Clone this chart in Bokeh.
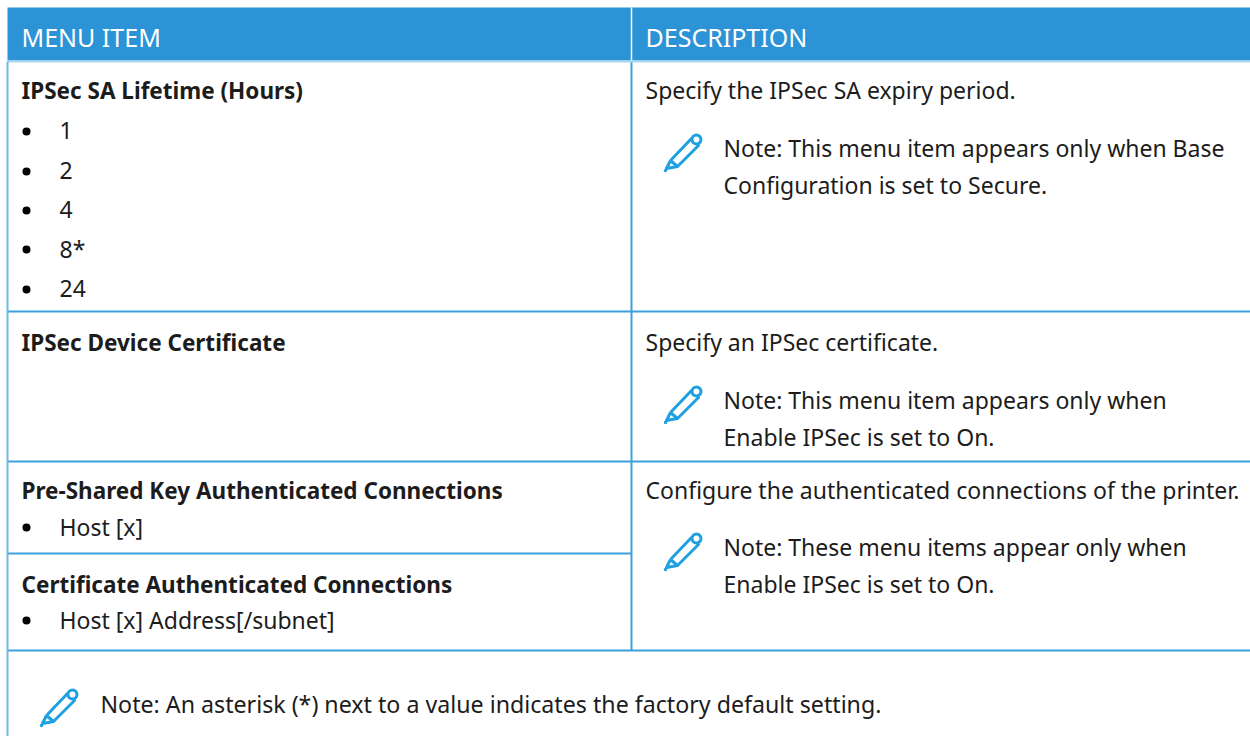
from bokeh.plotting import figure
from bokeh.embed import file_html
from bokeh.resources import INLINE
from bokeh.core.properties import value
from bokeh.models import Range1d

FONT = "Noto Sans"
BLUE = "#2b93d6"
LINE = "#3d9fdc"
LIGHT = "#a9d6f0"
INK = "#1c1c1c"
ICON = "#1fa0e0"

headers = ["MENU ITEM", "DESCRIPTION"]
left_bold = ["IPSec SA Lifetime (Hours)", "IPSec Device Certificate",
             "Pre-Shared Key Authenticated Connections", "Certificate Authenticated Connections"]
left_bold_y = [90, 342, 490, 584]
bullets = ["1", "2", "4", "8*", "24", "Host [x]", "Host [x] Address[/subnet]"]
bullets_y = [131, 171, 210, 249, 289, 527, 620]
right_plain = ["Specify the IPSec SA expiry period.", "Specify an IPSec certificate.",
               "Configure the authenticated connections of the printer."]
right_plain_y = [90, 342, 490]
notes = ["Note: This menu item appears only when Base", "Configuration is set to Secure.",
         "Note: This menu item appears only when", "Enable IPSec is set to On.",
         "Note: These menu items appear only when", "Enable IPSec is set to On."]
notes_y = [148, 185, 400, 437, 547, 584]
footer = "Note: An asterisk (*) next to a value indicates the factory default setting."
footer_y = 704
icon_spots = [(664, 133), (664, 385), (664, 532), (40, 688)]

W, H = 1250, 736
p = figure(width=W, height=H, output_backend="svg", toolbar_location=None,
           x_range=Range1d(0, W), y_range=Range1d(H, 0), min_border=0,
           outline_line_color=None, background_fill_color="white", border_fill_color="white")
p.xaxis.visible = False
p.yaxis.visible = False
p.grid.visible = False


def txt(x, y, s, size="23px", color=INK, weight="normal"):
    p.text([x], [y], text=[s], text_font=value(FONT), text_font_size=value(size), text_color=color,
           text_font_style=weight, text_baseline="middle", text_align="left")


# header band and rules
p.quad(left=[7], right=[W], top=[7], bottom=[60], fill_color=BLUE, line_color=None)
p.segment([631], [7], [631], [60], line_color="white", line_width=1.5)
p.segment([631], [61], [631], [650], line_color=LINE, line_width=2)
p.segment([7], [61], [W], [61], line_color=LIGHT, line_width=2)
p.segment([7, 7, 7, 7], [311, 461, 553, 650],
          [W, W, 631, W], [311, 461, 553, 650], line_color=LINE, line_width=2)
p.segment([7], [61], [7], [736], line_color="#6cb8e6", line_width=2)

for x, h in zip([21, 645], headers):
    txt(x, 36, h, size="25px", color="white")
for y, s in zip(left_bold_y, left_bold):
    txt(21, y, s, weight="bold", size="22.5px")
for y, s in zip(bullets_y, bullets):
    p.scatter([26], [y], size=8, color="black", line_color=None)
    txt(59, y - 1, s)
for y, s in zip(right_plain_y, right_plain):
    txt(645, y - 1, s)
for y, s in zip(notes_y, notes):
    txt(723, y - 1, s)
txt(100, footer_y - 1, footer, size="23.2px")

# pencil icon, local coordinates in a 38x37 box
body_x = [6, 27, 34, 13, 6]
body_y = [27, 5, 12, 33, 27]
tip_x = [6, 2, 13]
tip_y = [27, 35, 33]
for ox, oy in icon_spots:
    for xs, ys in ((body_x, body_y), (tip_x, tip_y)):
        p.line([ox + v for v in xs], [oy + v for v in ys], line_color=ICON, line_width=3,
               line_join="round")
    p.scatter([ox + 32], [oy + 6], size=9, fill_color="white", line_color=ICON, line_width=3)
    p.scatter([ox + 1], [oy + 37], size=3.5, color=ICON, line_color=None)

open("out.html", "w").write(file_html(p, INLINE))
